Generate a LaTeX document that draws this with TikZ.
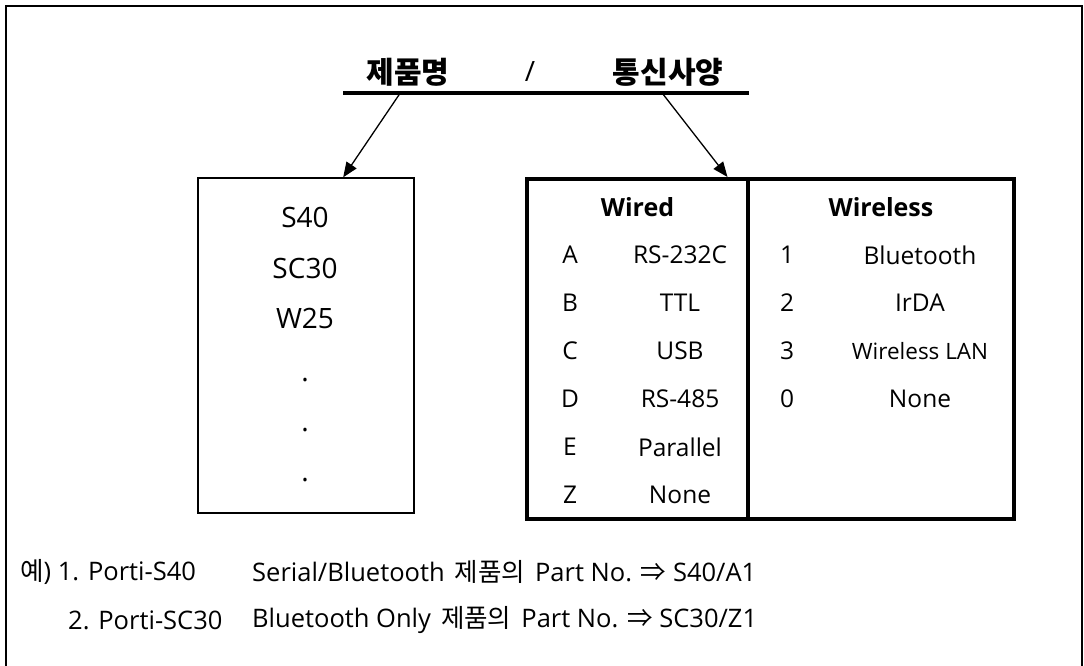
\documentclass[tikz,border=0pt]{standalone}
\usepackage{fontspec}
\setmainfont{Open Sans}
\newfontfamily\krfont{Noto Sans CJK KR}
\newcommand{\kor}[1]{{\krfont #1}}
\usetikzlibrary{arrows.meta,positioning,calc}

\begin{document}
\begin{tikzpicture}[x=1pt, y=-1pt,
  head/.style={font=\krfont\bfseries\fontsize{30}{33}\selectfont, inner sep=0pt},
  bar/.style={line width=4pt},
  arr/.style={-{Triangle[length=15pt, width=12pt]}, line width=1.3pt},
  pbox/.style={draw, line width=1.3pt, minimum width=216, minimum height=335},
  cell/.style={draw, line width=4pt, minimum height=340},
  big/.style={font=\fontsize{28}{32}\selectfont, inner sep=0pt},
  lab/.style={font=\fontsize{24.5}{28}\selectfont, inner sep=0pt},
  labb/.style={font=\bfseries\fontsize{25}{28}\selectfont, inner sep=0pt},
  note/.style={font=\fontsize{25.5}{29}\selectfont, inner sep=0pt, anchor=west}
]
\useasboundingbox (0,0) rectangle (1084,665);
% outer frame (bottom edge cut off)
\draw[line width=2.5pt] (6,670) -- (6,6) -- (1082,6) -- (1082,670);

% heading
\node[head] (prod) at (408,72) {제품명};
\node[head, font=\fontsize{28}{32}\selectfont] (slash) at (530,72) {/};
\node[head] (spec) at (668,72) {통신사양};
\coordinate (barL) at (343,93);
\coordinate (barR) at (749,93);
\draw[bar] (barL) -- (barR);

% product box
\node[pbox] (prodbox) at (306,345.5) {};
\node[big] (s40) at (305,217) {S40};
\node[big] (sc30) at (305,268) {SC30};
\node[big] (w25) at (305,318) {W25};
\foreach \y in {378,428,478}
  \node[big, anchor=base] at (305,\y+3) {.};

% spec table
\node[cell, minimum width=221] (wired) at (637.5,349) {};
\node[cell, minimum width=266] (wless) at (881,349) {};
\node[labb] (wiredh) at (637.5,207) {Wired};
\node[labb] (wlessh) at (881,207) {Wireless};
\foreach \k/\c/\t in {0/A/RS-232C,1/B/TTL,2/C/USB,3/D/RS-485,4/E/Parallel,5/Z/None}{
  \node[lab] at (570,255+48*\k) {\c};
  \node[lab] at (680,255+48*\k) {\t};
}
\foreach \k/\c/\t in {0/1/Bluetooth,1/2/IrDA,2/3/{\fontsize{22.5}{26}\selectfont Wireless LAN},3/0/None}{
  \node[lab] at (787,255+48*\k) {\c};
  \node[lab] at (920,255+48*\k) {\t};
}

% arrows
\draw[arr] ($(barL)!0.141!(barR)$) -- ($(prodbox.north west)!0.671!(prodbox.north east)$);
\draw[arr] ($(barL)!0.786!(barR)$) -- ($(wired.north west)!0.9!(wired.north east)$);

% examples
\node[note] (ex1a) at (20,572) {\kor{예}) 1. Porti-S40};
\node[note] (ex1b) at (252,572) {Serial/Bluetooth\hspace{10pt}\kor{제품의}\hspace{10pt}Part No. \kor{⇒} S40/A1};
\node[note] (ex2a) at (68,620) {2. Porti-SC30};
\node[note] (ex2b) at (252,620) {Bluetooth Only\hspace{10pt}\kor{제품의}\hspace{10pt}Part No. \kor{⇒} SC30/Z1};
\end{tikzpicture}
\end{document}
